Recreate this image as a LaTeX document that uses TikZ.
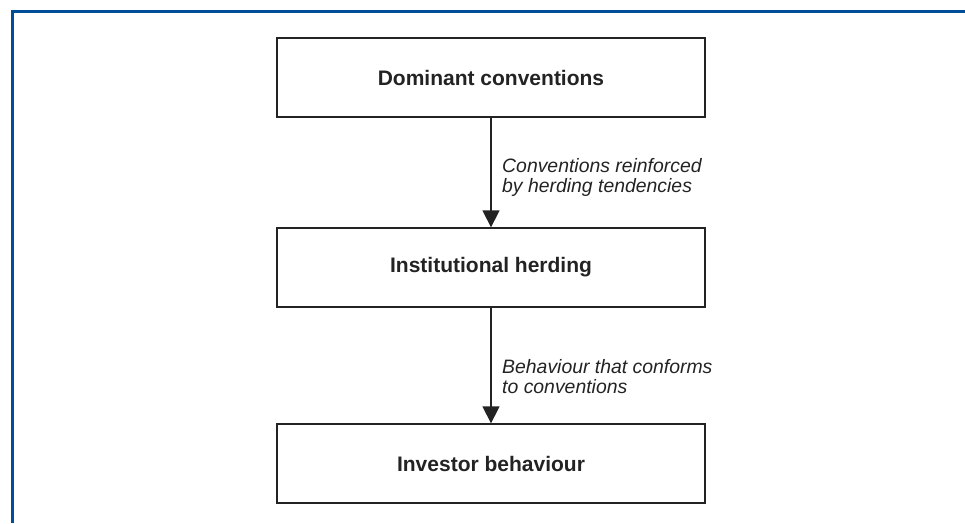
\documentclass[tikz,border=0pt]{standalone}
\usepackage{fontspec}
\setmainfont{Liberation Sans}
\usetikzlibrary{arrows.meta}
\definecolor{frameblue}{RGB}{0,78,152}
\definecolor{boxline}{RGB}{35,35,35}
\tikzset{
  stagebox/.style={draw=boxline, line width=1.3pt, minimum width=428pt, minimum height=79pt,
    inner sep=0pt, font=\fontsize{21}{25}\selectfont\bfseries, text=boxline},
  flowlabel/.style={anchor=west, inner sep=0pt, align=left,
    font=\fontsize{19.4}{20}\selectfont\itshape, text=boxline},
  flowarrow/.style={draw=boxline, line width=1.3pt, -{Triangle[width=17pt,length=17pt]}},
}
\begin{document}
\begin{tikzpicture}[x=1pt,y=-1pt]
\useasboundingbox (0,0) rectangle (965,523);
\draw[frameblue, line width=2.6pt] (965,11.5) -- (11,11.5);
\draw[frameblue, line width=2.6pt] (12.3,10.2) -- (12.3,523);
\node[stagebox] (dom) at (491,77.5) {Dominant conventions};
\node[stagebox] (inst) at (491,267.5) {Institutional herding};
\node[stagebox] (inv) at (491,463.5) {Investor behaviour};
\draw[flowarrow] (dom) -- (inst);
\draw[flowarrow] (inst) -- (inv);
\node[flowlabel] (l1) at (502,177) {Conventions reinforced\\by herding tendencies};
\node[flowlabel] (l2) at (502,377) {Behaviour that conforms\\to conventions};
\end{tikzpicture}
\end{document}
